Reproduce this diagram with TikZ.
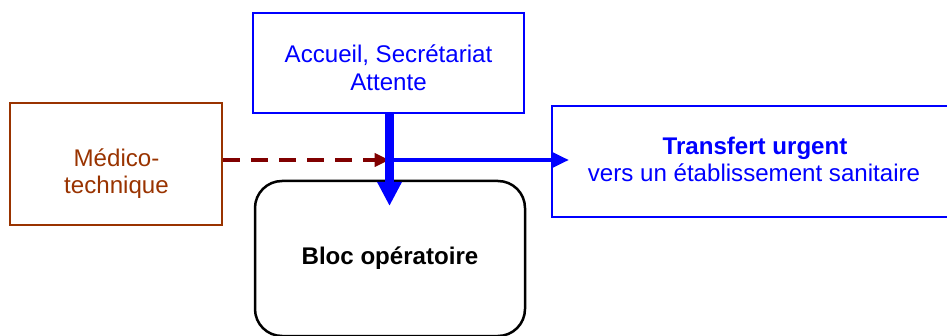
\documentclass[tikz,border=0pt]{standalone}
\usepackage{fontspec}
\setmainfont{Liberation Sans}
\usetikzlibrary{arrows.meta}
\definecolor{flowblue}{RGB}{0,0,255}
\definecolor{brick}{RGB}{153,51,0}
\definecolor{darkred}{RGB}{128,0,0}
\begin{document}
\begin{tikzpicture}[x=1pt,y=-1pt,
  every node/.style={font=\fontsize{24.1pt}{27pt}\selectfont},
  box/.style={draw, rectangle, inner sep=0pt, line width=2pt},
  txt/.style={anchor=base, inner sep=0pt},
  bluebox/.style={box, draw=flowblue},
  brownbox/.style={box, draw=brick},
  roundbox/.style={draw=black, rectangle, rounded corners=27pt, inner sep=0pt, line width=2.5pt}]
\useasboundingbox (0,0) rectangle (947,336);
\clip (0,0) rectangle (947,336);

% boxes
\node[bluebox, minimum width=271pt, minimum height=100pt] (acc) at (388.5,63) {};
\node[brownbox, minimum width=212pt, minimum height=122pt] (med) at (116,164) {};
\node[bluebox, minimum width=404pt, minimum height=111pt] (tr) at (754,161.5) {};
\node[roundbox, minimum width=270pt, minimum height=155pt] (bloc) at (390,258.5) {};

% labels
\node[txt, text=flowblue] (acc1) at (388.5,63) {Accueil, Secrétariat};
\node[txt, text=flowblue] (acc2) at (388.5,90.5) {Attente};
\node[txt, text=brick] (med1) at (116.5,167) {Médico-};
\node[txt, text=brick] (med2) at (116.5,194) {technique};
\node[txt, text=flowblue, font=\fontsize{24.1pt}{27pt}\selectfont\bfseries] (tr1) at (755,155) {Transfert urgent};
\node[txt, text=flowblue] (tr2) at (754,181.5) {vers un établissement sanitaire};
\node[txt, text=black, font=\fontsize{24.1pt}{27pt}\selectfont\bfseries] (bloc1) at (390,265) {Bloc opératoire};

% connectors
\coordinate (j) at (389.5,160);
\coordinate (down) at (389.5,206);
\coordinate (right) at (569,160);

\draw[darkred, line width=4pt, dash pattern=on 16.5pt off 11.5pt,
      -{Triangle[length=15pt,width=13pt]}] (med.east |- j) -- (j);
\draw[flowblue, line width=4.5pt, -{Triangle[length=16pt,width=14pt]}] (j) -- (right);
\draw[flowblue, line width=9pt, -{Triangle[length=24pt,width=23pt]}] (acc.south -| down) -- (down);
\end{tikzpicture}
\end{document}
